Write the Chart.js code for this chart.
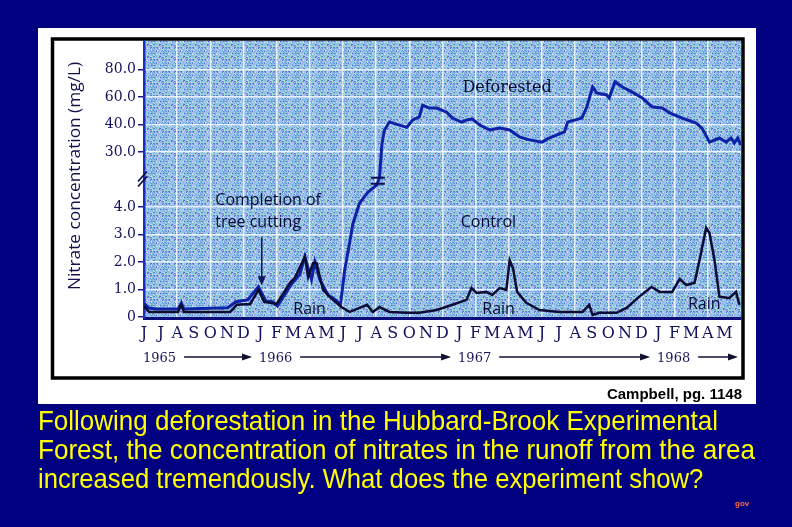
<!DOCTYPE html>
<html><head><meta charset="utf-8">
<script src="https://cdn.jsdelivr.net/npm/chart.js@4.4.1/dist/chart.umd.min.js"></script>
<style>
html,body{margin:0;padding:0;background:#000080;width:792px;height:527px;overflow:hidden}
#c{position:absolute;left:0;top:0}
.cap{position:absolute;left:38px;color:#ffff00;font-family:"Liberation Sans",Arial,sans-serif;font-size:28px;white-space:nowrap;transform-origin:0 0;line-height:1}
#gov{position:absolute;left:735px;top:499px;color:#ff6a40;font:bold 8px "Liberation Sans",sans-serif}
</style></head><body>
<canvas id="c" width="792" height="527"></canvas>
<div class="cap" data-w="680" style="top:407px">Following deforestation in the Hubbard-Brook Experimental</div>
<div class="cap" data-w="717" style="top:436px">Forest, the concentration of nitrates in the runoff from the area</div>
<div class="cap" data-w="665" style="top:465px">increased tremendously. What does the experiment show?</div>
<div id="gov">gov</div>
<script>
// ---- data ----
const monthLabels = ['J','J','A','S','O','N','D',
  'J','F','M','A','M','J','J','A','S','O','N','D',
  'J','F','M','A','M','J','J','A','S','O','N','D',
  'J','F','M','A','M'];
const yearLabels = ['1965','1966','1967','1968'];
const yearStartMonths = [0, 7, 19, 31];

const yTickValues = [0, 1, 2, 3, 4, 30, 40, 60, 80];
const yTickLabels = ['0', '1.0', '2.0', '3.0', '4.0', '30.0', '40.0', '60.0', '80.0'];

// months since June 1965
const deforestedMonths = [0,0.25,0.7,2.05,2.25,2.4,5.05,5.55,6.25,6.9,7.35,7.75,8.05,8.9,9.4,9.7,10.1,10.3,10.6,11.1,11.55,11.85,
  12.1,12.4,12.6,13.0,13.5,14.05,14.2,14.35,14.5,14.8,15.4,15.85,16.2,16.6,16.8,17.2,17.65,18.25,18.6,19.15,19.45,19.8,
  20.25,20.85,21.45,22.05,22.65,23.05,24.0,24.3,24.9,25.35,25.55,26.4,26.7,27.05,27.3,27.9,28.05,28.4,28.85,29.45,
  30.05,30.65,31.25,31.7,32.45,33.3,33.65,34.1,34.7,35.1,35.4,35.6,35.8,36.0];
const deforestedValues = [0.5,0.33,0.29,0.29,0.5,0.29,0.33,0.55,0.62,1.1,0.58,0.55,0.4,1.2,1.55,2.2,1.35,2.0,1.35,0.8,0.62,0.44,
  1.7,2.7,3.4,5.9,11,14.5,18,33,38,41.8,39.8,39,43.3,45.5,54,52,52,49,44.7,41.8,43.3,44,
  39.8,38,38.7,38,35.5,34.7,33.6,34.7,36.2,37.3,41.8,44.7,52.7,67.3,63,61.5,59.3,71,67.3,63.6,
  59.3,52.7,52,48.4,44.7,41.1,38.7,33.6,35.1,33.6,35.1,33.3,35.1,32.5];

const controlMonths = [0,0.3,2.05,2.25,2.4,5.2,5.6,6.4,6.9,7.25,8.0,8.8,9.1,9.7,9.9,10.2,10.4,10.8,11.2,11.9,
  12.4,13.0,13.45,13.8,14.2,14.8,15.85,16.6,17.65,18.6,19.45,19.75,20.05,20.65,21.0,21.45,21.85,22.05,22.25,22.5,
  23.05,23.85,25.05,26.45,26.85,27.05,27.45,28.5,29.1,29.85,30.6,31.1,31.85,32.3,32.7,33.2,33.5,33.9,34.1,34.4,
  34.7,35.3,35.7,35.9];
const controlValues = [0.4,0.18,0.18,0.44,0.18,0.18,0.44,0.47,0.98,0.55,0.47,1.24,1.42,2.18,1.45,1.96,1.96,0.98,0.73,0.36,
  0.18,0.33,0.44,0.18,0.36,0.18,0.15,0.15,0.25,0.44,0.62,1.05,0.87,0.91,0.8,1.05,0.98,2.07,1.78,0.91,
  0.51,0.25,0.18,0.18,0.44,0.07,0.15,0.15,0.33,0.73,1.09,0.91,0.91,1.38,1.16,1.24,2.07,3.24,3.05,2.07,
  0.73,0.69,0.91,0.44];

// text annotations (month position, axis position)
const notes = [
  {text:'Deforested', m:19.2, a:8.33, serif:true},
  {text:'Completion of', m:4.3, a:4.25},
  {text:'tree cutting', m:4.3, a:3.45},
  {text:'Control', m:19.1, a:3.45},
  {text:'Rain', m:9.0, a:0.26},
  {text:'Rain', m:20.4, a:0.26},
  {text:'Rain', m:32.8, a:0.44}
];

// broken axis: 0-4 linear, break, 30/40/60/80 evenly spaced
function toAxis(v){
  if (v <= 4) return v;
  if (v <= 30) return 4 + (v-4)/13;
  if (v <= 40) return 6 + (v-30)/10;
  if (v <= 60) return 7 + (v-40)/20;
  return 8 + (v-60)/20;
}
const deforested = deforestedMonths.map((m,i)=>({x:m, y:toAxis(deforestedValues[i])}));
const control = controlMonths.map((m,i)=>({x:m, y:toAxis(controlValues[i])}));

const INK = '#12125e';

// soft dithered screen texture for the plot background
function makeTexture(ctx){
  const cols = ['#7cc8ee','#6088dc','#bcb4ea','#d6ecfc','#8ec2ea','#9edcd2','#5470d2','#aad0f4','#84b0e4'];
  const N = 12;
  const t = document.createElement('canvas'); t.width = N; t.height = N;
  const tc = t.getContext('2d');
  for (let i=0;i<N;i++) for (let j=0;j<N;j++){
    const h = ((i*7 + j*11 + i*j*5 + ((i^j)*3)) % cols.length + cols.length) % cols.length;
    tc.fillStyle = cols[h];
    tc.fillRect(i,j,1,1);
  }
  return ctx.createPattern(t, 'repeat');
}

const deco = {
  id:'deco',
  beforeDraw(chart){
    const ctx = chart.ctx, a = chart.chartArea;
    ctx.save();
    ctx.fillStyle = '#ffffff';
    ctx.fillRect(38, 28, 718, 376);
    ctx.fillStyle = makeTexture(ctx);
    ctx.fillRect(a.left, a.top, a.right-a.left, a.bottom-a.top);
    ctx.strokeStyle = '#000';
    ctx.lineWidth = 3.5;
    ctx.strokeRect(52.5, 39, a.right - 52.5 + 2, 339);
    ctx.restore();
  },
  afterDatasetsDraw(chart){
    const ctx = chart.ctx, a = chart.chartArea;
    const xs = chart.scales.x, ys = chart.scales.y;
    ctx.save();
    ctx.textBaseline = 'middle';
    ctx.textAlign = 'left';
    notes.forEach(n=>{
      ctx.fillStyle = '#0a0a30';
      ctx.font = n.serif ? '16px "DejaVu Serif"' : '16px "Open Sans"';
      ctx.fillText(n.text, xs.getPixelForValue(n.m), ys.getPixelForValue(n.a));
    });
    const ax = xs.getPixelForValue(7.1), ay1 = ys.getPixelForValue(2.9), ay2 = ys.getPixelForValue(1.15);
    ctx.strokeStyle = '#14145a'; ctx.fillStyle = '#14145a'; ctx.lineWidth = 1.5;
    ctx.beginPath(); ctx.moveTo(ax, ay1); ctx.lineTo(ax, ay2-6); ctx.stroke();
    ctx.beginPath(); ctx.moveTo(ax-4, ay2-9); ctx.lineTo(ax+4, ay2-9); ctx.lineTo(ax, ay2); ctx.closePath(); ctx.fill();
    const bx = xs.getPixelForValue(14.1), by = ys.getPixelForValue(4.95);
    ctx.strokeStyle = '#0e0e50'; ctx.lineWidth = 2;
    ctx.beginPath(); ctx.moveTo(bx-7, by-3); ctx.lineTo(bx+7, by-3); ctx.moveTo(bx-7, by+3); ctx.lineTo(bx+7, by+3); ctx.stroke();
    const ab = ys.getPixelForValue(5.0);
    ctx.lineWidth = 1.8;
    ctx.beginPath();
    ctx.moveTo(a.left-6, ab+2); ctx.lineTo(a.left+3, ab-8);
    ctx.moveTo(a.left-6, ab+7); ctx.lineTo(a.left+3, ab-3);
    ctx.stroke();
    ctx.font = '13px "DejaVu Serif"';
    ctx.textBaseline = 'alphabetic';
    const yy = 362, ly = 357;
    yearLabels.forEach((t,i)=>{
      const x0 = xs.getPixelForValue(yearStartMonths[i]) - 1;
      ctx.fillStyle = '#16165a';
      ctx.fillText(t, x0, yy);
      const w = ctx.measureText(t).width;
      const s = x0 + w + 8;
      const e = (i < yearLabels.length-1) ? xs.getPixelForValue(yearStartMonths[i+1]) - 8 : a.right - 3;
      ctx.strokeStyle = '#101030'; ctx.fillStyle = '#101030'; ctx.lineWidth = 1.6;
      ctx.beginPath(); ctx.moveTo(s, ly); ctx.lineTo(e-6, ly); ctx.stroke();
      ctx.beginPath(); ctx.moveTo(e, ly); ctx.lineTo(e-10, ly-3.5); ctx.lineTo(e-10, ly+3.5); ctx.closePath(); ctx.fill();
    });
    ctx.save();
    ctx.translate(75, 176);
    ctx.rotate(-Math.PI/2);
    ctx.font = '16px "Open Sans"';
    ctx.textAlign = 'center'; ctx.textBaseline = 'middle';
    const tt = 'Nitrate concentration (mg/L)';
    const tw = ctx.measureText(tt).width;
    ctx.scale(228/tw, 1);
    ctx.fillStyle = '#12124a';
    ctx.fillText(tt, 0, 0);
    ctx.restore();
    ctx.font = 'bold 15px "Liberation Sans"';
    ctx.textAlign = 'right'; ctx.textBaseline = 'alphabetic';
    ctx.fillStyle = '#000';
    ctx.fillText('Campbell, pg. 1148', 742, 399);
    ctx.restore();
  }
};

new Chart(document.getElementById('c'), {
  type:'line',
  data:{datasets:[
    {label:'Control', data:control, borderColor:'#0c0c34', borderWidth:2.5, pointRadius:0, tension:0},
    {label:'Deforested', data:deforested, borderColor:'#0e22a8', borderWidth:3, pointRadius:0, tension:0}
  ]},
  options:{
    responsive:false, animation:false,
    layout:{padding:{left:0, top:41, right:51, bottom:0}},
    plugins:{legend:{display:false}, tooltip:{enabled:false}},
    scales:{
      x:{type:'linear', min:0, max:36,
        afterBuildTicks(s){ s.ticks = monthLabels.map((_,i)=>({value:i})).concat([{value:36}]); },
        afterFit(s){ s.height = 209; },
        ticks:{autoSkip:false, maxRotation:0, padding:6, color:INK,
          font:{family:'"DejaVu Serif"', size:16},
          callback:(v)=> monthLabels[v] !== undefined ? monthLabels[v] : ''},
        grid:{drawTicks:false, lineWidth:1.5,
          color:(c)=> (c.tick && c.tick.value%2===0 && c.tick.value>0 && c.tick.value<36) ? 'rgba(255,255,255,0.8)' : 'rgba(0,0,0,0)'},
        border:{color:'#0c0c7a', width:3}
      },
      y:{type:'linear', min:-0.04, max:10.04,
        afterBuildTicks(s){ s.ticks = yTickValues.map(v=>({value:toAxis(v)})); },
        afterFit(s){ s.width = 144; },
        ticks:{padding:2, color:INK, font:{family:'"DejaVu Serif"', size:14},
          callback:(v,i)=> yTickLabels[i]},
        grid:{tickLength:6, tickColor:'#1a1a90', lineWidth:1.5,
          color:(c)=> (c.tick && c.tick.value>0.5) ? 'rgba(255,255,255,0.8)' : 'rgba(0,0,0,0)'},
        border:{color:'#1530c0', width:2.5}
      }
    }
  },
  plugins:[deco]
});

document.querySelectorAll('.cap').forEach(el=>{
  const w = +el.dataset.w;
  el.style.transform = 'scaleX(' + (w/el.offsetWidth) + ')';
});
</script>
</body></html>
